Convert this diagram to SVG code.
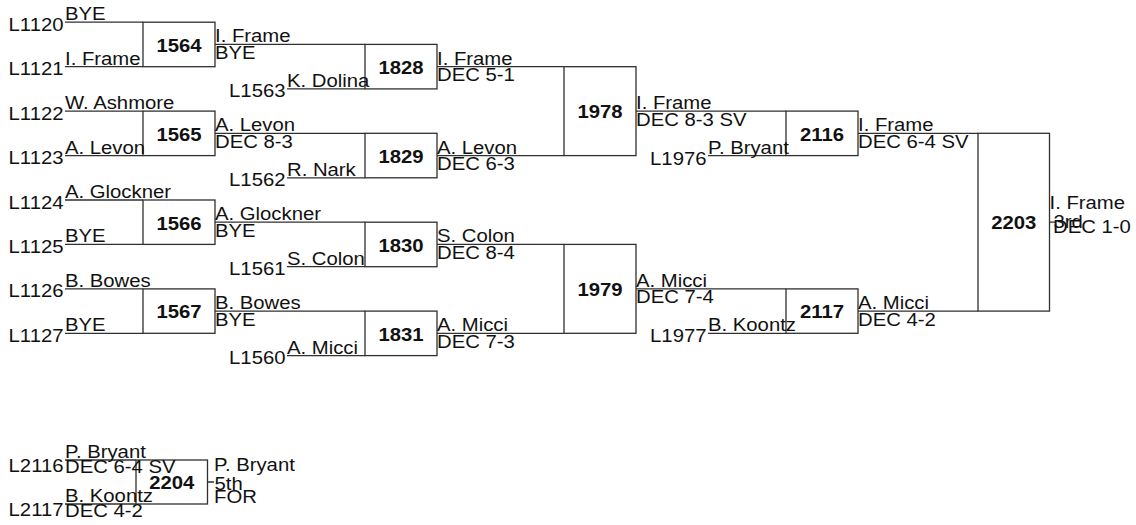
<svg xmlns="http://www.w3.org/2000/svg" width="1136" height="525" viewBox="0 0 1136 525">
<style>
.bg{fill:#fff}
.ln{stroke:#303030;stroke-width:1.3;fill:none}
.bx{stroke:#303030;stroke-width:1.3;fill:#fff}
.t{font-family:"Liberation Sans",Arial,sans-serif;font-size:17.5px;fill:#111}
.b{font-weight:bold;text-anchor:middle}
.e{text-anchor:end}
</style>
<rect class="bg" x="0" y="0" width="1136" height="525"/>
<g id="connectors">
<path class="ln" d="M65 22.2H143M65 66.7H143M65 111.1H143M65 155.6H143M65 200H143M65 244.4H143M65 288.9H143M65 333.3H143"/>
<path class="ln" d="M215 44.4H365M215 133.3H365M215 222.2H365M215 311.1H365"/>
<path class="ln" d="M287 88.9H365M287 177.8H365M287 266.7H365M287 355.6H365"/>
<path class="ln" d="M437 66.7H564M437 155.6H564M437 244.4H564M437 333.3H564"/>
<path class="ln" d="M636 111.1H786M636 288.9H786M708 155.6H786M708 333.3H786"/>
<path class="ln" d="M858 133.3H978M858 311.1H978M1049.5 222.2H1055"/>
<path class="ln" d="M65 460H136M65 504H136M207.5 482H214"/>
</g>
<g id="n1564"><rect class="bx" x="143" y="22.2" width="72" height="44.5"/><text class="t b" transform="translate(179 51.7) scale(1.16 1)">1564</text></g>
<g id="n1565"><rect class="bx" x="143" y="111.1" width="72" height="44.5"/><text class="t b" transform="translate(179 140.6) scale(1.16 1)">1565</text></g>
<g id="n1566"><rect class="bx" x="143" y="200" width="72" height="44.4"/><text class="t b" transform="translate(179 229.5) scale(1.16 1)">1566</text></g>
<g id="n1567"><rect class="bx" x="143" y="288.9" width="72" height="44.4"/><text class="t b" transform="translate(179 318.4) scale(1.16 1)">1567</text></g>
<g id="n1828"><rect class="bx" x="365" y="44.4" width="72" height="44.5"/><text class="t b" transform="translate(401 74) scale(1.16 1)">1828</text></g>
<g id="n1829"><rect class="bx" x="365" y="133.3" width="72" height="44.5"/><text class="t b" transform="translate(401 162.9) scale(1.16 1)">1829</text></g>
<g id="n1830"><rect class="bx" x="365" y="222.2" width="72" height="44.5"/><text class="t b" transform="translate(401 251.7) scale(1.16 1)">1830</text></g>
<g id="n1831"><rect class="bx" x="365" y="311.1" width="72" height="44.5"/><text class="t b" transform="translate(401 340.6) scale(1.16 1)">1831</text></g>
<g id="n1978"><rect class="bx" x="564" y="66.7" width="72" height="88.9"/><text class="t b" transform="translate(600 118.4) scale(1.16 1)">1978</text></g>
<g id="n1979"><rect class="bx" x="564" y="244.4" width="72" height="88.9"/><text class="t b" transform="translate(600 296.2) scale(1.16 1)">1979</text></g>
<g id="n2116"><rect class="bx" x="786" y="111.1" width="72" height="44.5"/><text class="t b" transform="translate(822 140.6) scale(1.16 1)">2116</text></g>
<g id="n2117"><rect class="bx" x="786" y="288.9" width="72" height="44.4"/><text class="t b" transform="translate(822 318.4) scale(1.16 1)">2117</text></g>
<g id="n2203"><rect class="bx" x="978" y="133.3" width="71.5" height="177.8"/><text class="t b" transform="translate(1013.7 229) scale(1.16 1)">2203</text></g>
<g id="n2204"><rect class="bx" x="136" y="460" width="71.5" height="44"/><text class="t b" transform="translate(171.7 489) scale(1.16 1)">2204</text></g>
<g id="labels">
<text class="t e" transform="translate(63.5 31) scale(1.16 1)">L1120</text>
<text class="t e" transform="translate(63.5 75) scale(1.16 1)">L1121</text>
<text class="t e" transform="translate(63.5 119.6) scale(1.16 1)">L1122</text>
<text class="t e" transform="translate(63.5 164) scale(1.16 1)">L1123</text>
<text class="t e" transform="translate(63.5 208.5) scale(1.16 1)">L1124</text>
<text class="t e" transform="translate(63.5 253) scale(1.16 1)">L1125</text>
<text class="t e" transform="translate(63.5 297.4) scale(1.16 1)">L1126</text>
<text class="t e" transform="translate(63.5 341.8) scale(1.16 1)">L1127</text>
<text class="t" transform="translate(65 20.2) scale(1.16 1)">BYE</text>
<text class="t" transform="translate(65 64.7) scale(1.16 1)">I. Frame</text>
<text class="t" transform="translate(65 109.1) scale(1.16 1)">W. Ashmore</text>
<text class="t" transform="translate(65 153.6) scale(1.16 1)">A. Levon</text>
<text class="t" transform="translate(65 198) scale(1.16 1)">A. Glockner</text>
<text class="t" transform="translate(65 242.4) scale(1.16 1)">BYE</text>
<text class="t" transform="translate(65 286.9) scale(1.16 1)">B. Bowes</text>
<text class="t" transform="translate(65 331.3) scale(1.16 1)">BYE</text>
<text class="t" transform="translate(215 42.4) scale(1.16 1)">I. Frame</text>
<text class="t" transform="translate(215 58.8) scale(1.16 1)">BYE</text>
<text class="t" transform="translate(215 131.3) scale(1.16 1)">A. Levon</text>
<text class="t" transform="translate(215 147.7) scale(1.16 1)">DEC 8-3</text>
<text class="t" transform="translate(215 220.2) scale(1.16 1)">A. Glockner</text>
<text class="t" transform="translate(215 236.6) scale(1.16 1)">BYE</text>
<text class="t" transform="translate(215 309.1) scale(1.16 1)">B. Bowes</text>
<text class="t" transform="translate(215 325.5) scale(1.16 1)">BYE</text>
<text class="t e" transform="translate(285.5 97) scale(1.16 1)">L1563</text>
<text class="t e" transform="translate(285.5 186) scale(1.16 1)">L1562</text>
<text class="t e" transform="translate(285.5 275) scale(1.16 1)">L1561</text>
<text class="t e" transform="translate(285.5 364) scale(1.16 1)">L1560</text>
<text class="t" transform="translate(287 86.9) scale(1.16 1)">K. Dolina</text>
<text class="t" transform="translate(287 175.8) scale(1.16 1)">R. Nark</text>
<text class="t" transform="translate(287 264.7) scale(1.16 1)">S. Colon</text>
<text class="t" transform="translate(287 353.6) scale(1.16 1)">A. Micci</text>
<text class="t" transform="translate(437 64.7) scale(1.16 1)">I. Frame</text>
<text class="t" transform="translate(437 81.2) scale(1.16 1)">DEC 5-1</text>
<text class="t" transform="translate(437 153.6) scale(1.16 1)">A. Levon</text>
<text class="t" transform="translate(437 170.1) scale(1.16 1)">DEC 6-3</text>
<text class="t" transform="translate(437 242.4) scale(1.16 1)">S. Colon</text>
<text class="t" transform="translate(437 258.9) scale(1.16 1)">DEC 8-4</text>
<text class="t" transform="translate(437 331.3) scale(1.16 1)">A. Micci</text>
<text class="t" transform="translate(437 347.8) scale(1.16 1)">DEC 7-3</text>
<text class="t" transform="translate(636 109.1) scale(1.16 1)">I. Frame</text>
<text class="t" transform="translate(636 125.6) scale(1.16 1)">DEC 8-3 SV</text>
<text class="t" transform="translate(636 286.9) scale(1.16 1)">A. Micci</text>
<text class="t" transform="translate(636 303.4) scale(1.16 1)">DEC 7-4</text>
<text class="t e" transform="translate(706.5 165) scale(1.16 1)">L1976</text>
<text class="t e" transform="translate(706.5 342) scale(1.16 1)">L1977</text>
<text class="t" transform="translate(708 153.6) scale(1.16 1)">P. Bryant</text>
<text class="t" transform="translate(708 331.3) scale(1.16 1)">B. Koontz</text>
<text class="t" transform="translate(858 131.3) scale(1.16 1)">I. Frame</text>
<text class="t" transform="translate(858 147.8) scale(1.16 1)">DEC 6-4 SV</text>
<text class="t" transform="translate(858 309.1) scale(1.16 1)">A. Micci</text>
<text class="t" transform="translate(858 325.6) scale(1.16 1)">DEC 4-2</text>
<text class="t" transform="translate(1049.5 209) scale(1.16 1)">I. Frame</text>
<text class="t" transform="translate(1053.5 227.5) scale(1.16 1)">3rd</text>
<text class="t" transform="translate(1053 232.5) scale(1.16 1)">DEC 1-0</text>
<text class="t e" transform="translate(63.5 471.7) scale(1.16 1)">L2116</text>
<text class="t e" transform="translate(63.5 515.7) scale(1.16 1)">L2117</text>
<text class="t" transform="translate(65 458) scale(1.16 1)">P. Bryant</text>
<text class="t" transform="translate(65 473.3) scale(1.16 1)">DEC 6-4 SV</text>
<text class="t" transform="translate(65 502) scale(1.16 1)">B. Koontz</text>
<text class="t" transform="translate(65 517.3) scale(1.16 1)">DEC 4-2</text>
<text class="t" transform="translate(214 471) scale(1.16 1)">P. Bryant</text>
<text class="t" transform="translate(214.5 490) scale(1.16 1)">5th</text>
<text class="t" transform="translate(214 502.5) scale(1.16 1)">FOR</text>
</g>
</svg>
